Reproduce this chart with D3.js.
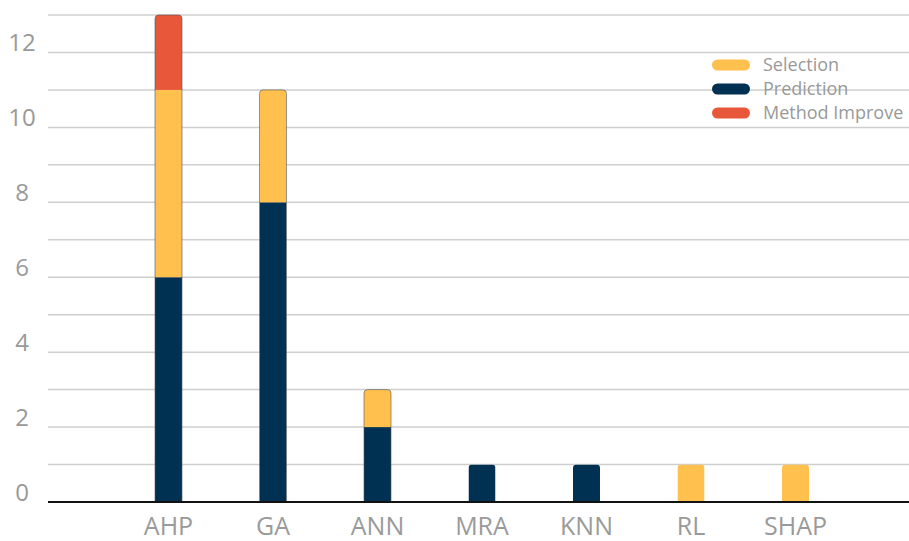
<!DOCTYPE html>
<html><head><meta charset="utf-8">
<script src="https://cdn.jsdelivr.net/npm/d3@7"></script>
<style>body{margin:0;background:#fff;} svg{display:block;}</style>
</head><body>
<svg id="c" width="909" height="541"></svg>
<script>
const categories = ["AHP","GA","ANN","MRA","KNN","RL","SHAP"];
const prediction = [6,8,2,1,1,0,0];
const selection = [5,3,1,0,0,1,1];
const methodImprove = [2,0,0,0,0,0,0];
const seriesNames = ["Selection","Prediction","Method Improve"];
const yTicks = [0,2,4,6,8,10,12];

const colors = {"Selection":"#FFC04D","Prediction":"#003152","Method Improve":"#E8573A"};
const svg = d3.select("#c");
const font = "'Open Sans', sans-serif";

const y = d3.scaleLinear().domain([0,13]).range([502,15]);
const x = d3.scalePoint().domain(categories).range([168.5,795.5]);
const bw = 27;

// gridlines
svg.append("g").selectAll("line").data(d3.range(1,14)).join("line")
  .attr("x1",48).attr("x2",909).attr("y1",d=>y(d)).attr("y2",d=>y(d))
  .attr("stroke","#cfcfcf").attr("stroke-width",1.5);

// y labels
svg.append("g").selectAll("text").data(yTicks).join("text")
  .attr("x",22).attr("y",d=>y(d)-1).attr("text-anchor","middle")
  .attr("font-family",font).attr("font-size",24).attr("fill","#999")
  .text(d=>d);

// bars
const rows = categories.map((c,i)=>({cat:c, Prediction:prediction[i], Selection:selection[i], "Method Improve":methodImprove[i]}));
const stack = d3.stack().keys(["Prediction","Selection","Method Improve"])(rows);
const gb = svg.append("g");
categories.forEach((c,i)=>{
  const segs = stack.map(s=>({key:s.key, y0:s[i][0], y1:s[i][1]})).filter(s=>s.y1>s.y0);
  const top = d3.max(segs,s=>s.y1);
  const stacked = segs.length>1;
  const cid = "clip"+i;
  svg.append("clipPath").attr("id",cid).append("rect")
    .attr("x",x(c)-bw/2).attr("y",y(top)).attr("width",bw).attr("height",y(0)-y(top)+4).attr("rx",3.5);
  const g = gb.append("g").attr("clip-path",`url(#${cid})`);
  segs.forEach(s=>{
    g.append("rect").attr("x",x(c)-bw/2).attr("width",bw)
      .attr("y",y(s.y1)).attr("height",y(s.y0)-y(s.y1))
      .attr("fill",colors[s.key]);
  });
  if(stacked){
    const x0 = x(c)-bw/2, x1 = x(c)+bw/2, t = y(top), r = 3.5, b = y(0);
    gb.append("path")
      .attr("d",`M${x0},${b} L${x0},${t+r} Q${x0},${t} ${x0+r},${t} L${x1-r},${t} Q${x1},${t} ${x1},${t+r} L${x1},${b}`)
      .attr("fill","none").attr("stroke","#555").attr("stroke-opacity",0.6).attr("stroke-width",1);
  }
});

// baseline
svg.append("line").attr("x1",48).attr("x2",909).attr("y1",y(0)).attr("y2",y(0))
  .attr("stroke","#111").attr("stroke-width",2);

// x labels
svg.append("g").selectAll("text").data(categories).join("text")
  .attr("x",d=>x(d)).attr("y",535).attr("text-anchor","middle")
  .attr("font-family",font).attr("font-size",25).attr("fill","#9a9a9a")
  .attr("textLength",d=>null)
  .text(d=>d);

// legend
const lg = svg.append("g");
seriesNames.forEach((n,i)=>{
  const yy = 65 + i*24;
  lg.append("rect").attr("x",712).attr("y",yy-5.5).attr("width",38).attr("height",11).attr("rx",5.5).attr("fill",colors[n]);
  lg.append("text").attr("x",763).attr("y",yy+6).attr("font-family",font).attr("font-size",18).attr("fill","#999").text(n);
});
</script>
</body></html>
